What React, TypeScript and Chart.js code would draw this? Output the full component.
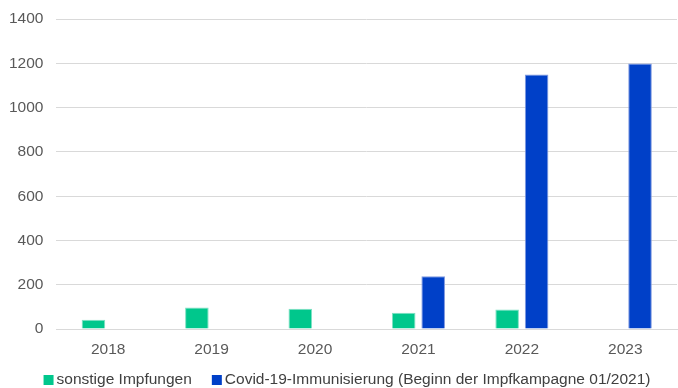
import React, { useEffect, useRef } from "react";
import { Chart, registerables } from "chart.js";

Chart.register(...registerables);

const categories = ["2018", "2019", "2020", "2021", "2022", "2023"];
const sonstige = [42, 97, 91, 73, 88, 2];
const covid = [0, 0, 0, 238, 1150, 1200];
const seriesLabels = ["sonstige Impfungen", "Covid-19-Immunisierung (Beginn der Impfkampagne 01/2021)"];
const yTicks = [0, 200, 400, 600, 800, 1000, 1200, 1400];

const FONT = "Liberation Sans, Arial";

const bottomLegend = {
  id: "bottomLegend",
  afterDraw(chart: any) {
    const ctx = chart.ctx;
    ctx.save();
    ctx.font = `15.5px ${FONT}`;
    ctx.textBaseline = "middle";
    ctx.textAlign = "left";
    const box = 10;
    const boxGap = 3;
    const itemGap = 20;
    const items = chart.data.datasets.map((ds: any) => ({
      label: ds.label,
      color: ds.backgroundColor,
      w: box + boxGap + ctx.measureText(ds.label).width,
    }));
    const total = items.reduce((s: number, it: any) => s + it.w, 0) + itemGap * (items.length - 1);
    let x = 347 - total / 2;
    const y = 380;
    for (const it of items) {
      ctx.fillStyle = it.color;
      ctx.fillRect(x, y - box / 2, box, box);
      ctx.fillStyle = "#404040";
      ctx.fillText(it.label, x + box + boxGap, y);
      x += it.w + itemGap;
    }
    ctx.restore();
  },
};

export default function App() {
  const ref = useRef<HTMLCanvasElement | null>(null);
  useEffect(() => {
    document.body.style.margin = "0";
    const ctx = ref.current!;
    const font = { family: FONT, size: 15.5 };
    const chart = new Chart(ctx, {
      type: "bar",
      data: {
        labels: categories,
        datasets: [
          {
            label: seriesLabels[0],
            data: sonstige,
            backgroundColor: "#00C78C",
            borderColor: "#7FE0C3",
            borderWidth: 1,
            categoryPercentage: 0.57,
            barPercentage: 0.8,
          },
          {
            label: seriesLabels[1],
            data: covid,
            backgroundColor: "#0040C8",
            borderColor: "#8099E0",
            borderWidth: 1,
            categoryPercentage: 0.57,
            barPercentage: 0.8,
          },
        ],
      },
      plugins: [bottomLegend],
      options: {
        responsive: false,
        animation: false,
        layout: { padding: { top: 0, right: 1, left: -4, bottom: 18.4 } },
        scales: {
          x: {
            grid: { display: false, drawTicks: false },
            border: { color: "#d9d9d9", width: 1 },
            ticks: { color: "#595959", font, padding: 11 },
          },
          y: {
            min: 0,
            max: 1400,
            afterBuildTicks: (axis: any) => {
              axis.ticks = yTicks.map((v) => ({ value: v }));
            },
            ticks: {
              color: "#595959",
              font: { family: FONT, size: 15.5, lineHeight: 0.8 },
              padding: 13,
              callback: (v: any) => String(v),
            },
            grid: { color: "#d9d9d9", drawTicks: false },
            border: { display: false },
          },
        },
        plugins: {
          legend: { display: false },
          tooltip: { enabled: false },
        },
      },
    });
    return () => chart.destroy();
  }, []);
  return (
    <div style={{ width: 678, height: 388 }}>
      <canvas ref={ref} width={678} height={388} />
    </div>
  );
}
